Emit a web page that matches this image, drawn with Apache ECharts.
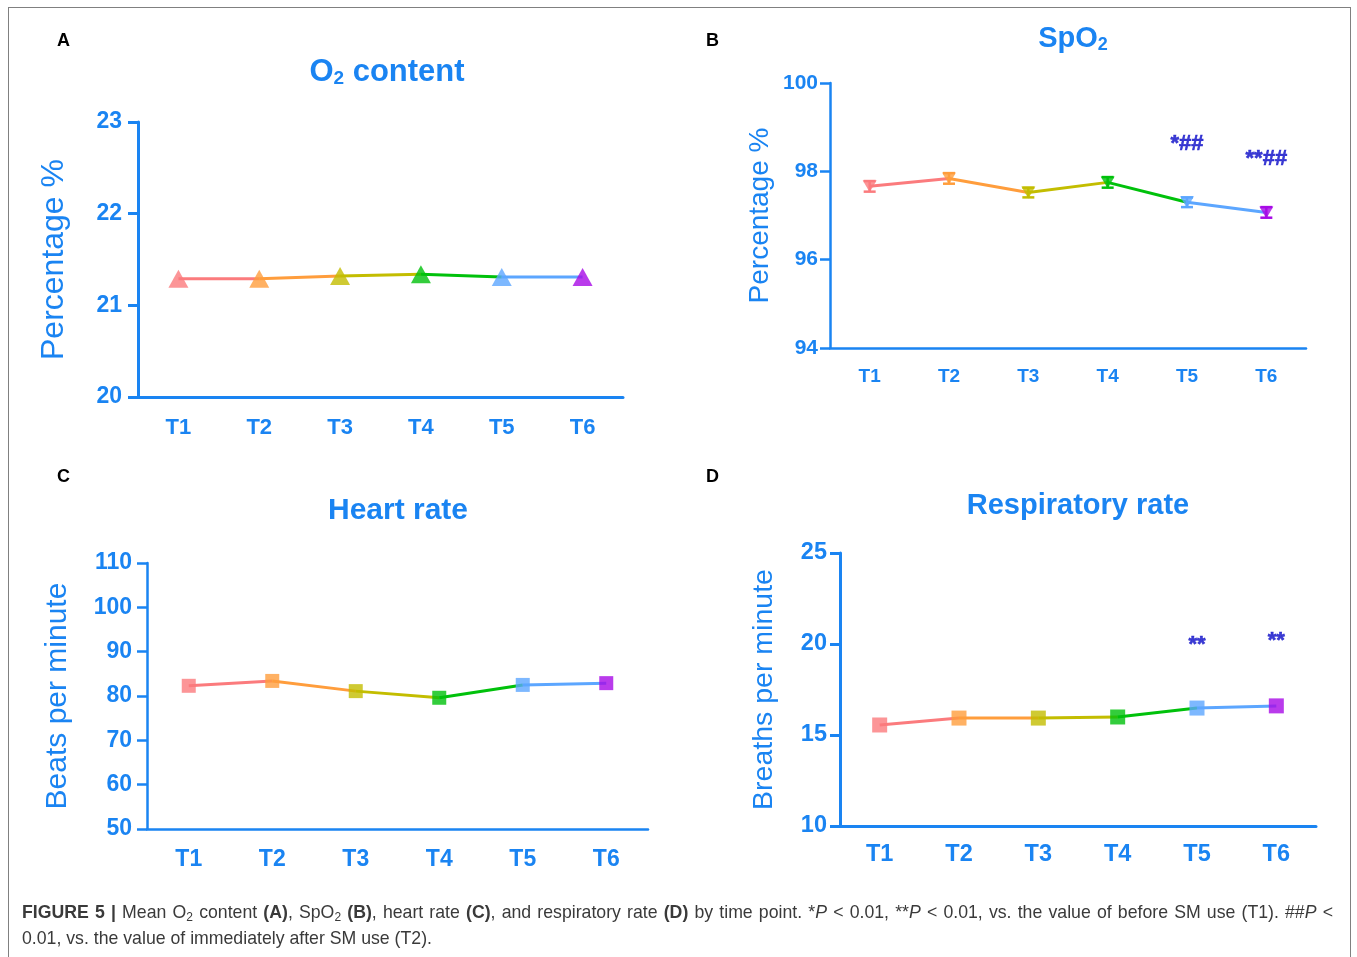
<!DOCTYPE html>
<html>
<head>
<meta charset="utf-8">
<script src="https://cdn.jsdelivr.net/npm/echarts@6/dist/echarts.min.js"></script>
<style>
  html, body { margin: 0; padding: 0; background: #fff; }
  #chart { position: absolute; left: 0; top: 0; width: 1357px; height: 957px; }
  #frame { position: absolute; left: 8px; top: 7px; width: 1343px; height: 960px; border: 1.5px solid #808080; box-sizing: border-box; pointer-events: none; }
  #caption { position: absolute; left: 22px; top: 899px; width: 1311px; font-family: "Liberation Sans", Arial, sans-serif; font-size: 17.7px; line-height: 26px; color: #3a3a3a; }
  #caption .l1 { text-align: justify; text-align-last: justify; white-space: nowrap; }
  #caption .l2 { text-align: left; }
  #caption sub { font-size: 12px; vertical-align: -3px; line-height: 0; }
</style>
</head>
<body>
<div id="chart"></div>
<div id="frame"></div>
<div id="caption"><div class="l1"><b>FIGURE 5 |</b> Mean O<sub>2</sub> content <b>(A)</b>, SpO<sub>2</sub> <b>(B)</b>, heart rate <b>(C)</b>, and respiratory rate <b>(D)</b> by time point. *<i>P</i> &lt; 0.01, **<i>P</i> &lt; 0.01, vs. the value of before SM use (T1). ##<i>P</i> &lt;</div><div class="l2">0.01, vs. the value of immediately after SM use (T2).</div></div>
<script>
// ---------- data ----------
const categories = ['T1', 'T2', 'T3', 'T4', 'T5', 'T6'];
const o2Content = [21.29, 21.29, 21.32, 21.34, 21.31, 21.31];
const spo2 = [97.66, 97.84, 97.52, 97.75, 97.30, 97.07];
const spo2Err = [0.12, 0.12, 0.11, 0.12, 0.11, 0.12];
const heartRate = [82.3, 83.4, 81.1, 79.6, 82.5, 82.9];
const respRate = [15.55, 15.93, 15.93, 15.99, 16.48, 16.60];
const annotB = ['', '', '', '', '*##', '**##'];
const annotBY = [null, null, null, null, 98.62, 98.27];
const annotD = ['', '', '', '', '**', '**'];
const annotDY = [null, null, null, null, 19.95, 20.15];
const yTicksA = { min: 20, max: 23, interval: 1 };
const yTicksB = { min: 94, max: 100, interval: 2 };
const yTicksC = { min: 50, max: 110, interval: 10 };
const yTicksD = { min: 10, max: 25, interval: 5 };

// ---------- style ----------
const pointColors = ['#fb7b7d', '#ff9d3c', '#c3bd00', '#00c10b', '#5ca6ff', '#a70ae6'];
const AX = '#1a84f2';
const ANN = '#0c0cc8';
const FONT = '"Liberation Sans", Arial, sans-serif';

const panels = [
  { vals: o2Content, ticks: yTicksA, grid: { left: 138, top: 122, width: 485, height: 275 },
    name: 'Percentage %', nameSize: 32, nameGap: 68, ySize: 23, yMargin: 16, xSize: 22, xMargin: 20,
    lw: 3, symbol: 'triangle', symbolSize: [20, 18], rotate: 0 },
  { vals: spo2, ticks: yTicksB, grid: { left: 830, top: 83, width: 476, height: 265 },
    name: 'Percentage %', nameSize: 28, nameGap: 56, ySize: 21, yMargin: 12, xSize: 19, xMargin: 19,
    lw: 2.5, symbol: 'triangle', symbolSize: [14, 12], rotate: 180 },
  { vals: heartRate, ticks: yTicksC, grid: { left: 147, top: 563, width: 501, height: 266 },
    name: 'Beats per minute', nameSize: 30, nameGap: 74, ySize: 23, yMargin: 15, xSize: 23, xMargin: 19,
    lw: 2.5, symbol: 'rect', symbolSize: 14, rotate: 0 },
  { vals: respRate, ticks: yTicksD, grid: { left: 840, top: 553, width: 476, height: 273 },
    name: 'Breaths per minute', nameSize: 28.5, nameGap: 61, ySize: 23.5, yMargin: 13, xSize: 23.5, xMargin: 17,
    lw: 3, symbol: 'rect', symbolSize: 15, rotate: 0 }
];

const grids = [], xAxes = [], yAxes = [], series = [];
panels.forEach((p, gi) => {
  grids.push(Object.assign({ containLabel: false }, p.grid));
  xAxes.push({
    gridIndex: gi, type: 'category', data: categories, boundaryGap: true,
    axisLine: { lineStyle: { color: AX, width: p.lw } },
    axisTick: { alignWithLabel: true, length: 12, lineStyle: { color: AX, width: p.lw } },
    axisLabel: { color: AX, fontFamily: FONT, fontWeight: 'bold', fontSize: p.xSize, margin: p.xMargin },
    splitLine: { show: false }
  });
  yAxes.push({
    gridIndex: gi, type: 'value', min: p.ticks.min, max: p.ticks.max, interval: p.ticks.interval,
    axisLine: { show: true, lineStyle: { color: AX, width: p.lw } },
    axisTick: { show: true, length: 10, lineStyle: { color: AX, width: p.lw } },
    axisLabel: { color: AX, fontFamily: FONT, fontWeight: 'bold', fontSize: p.ySize, margin: p.yMargin },
    splitLine: { show: false },
    name: p.name, nameLocation: 'middle', nameRotate: 90, nameGap: p.nameGap,
    nameTextStyle: { color: AX, fontFamily: FONT, fontSize: p.nameSize }
  });
  // coloured segments
  for (let i = 0; i < categories.length - 1; i++) {
    series.push({
      type: 'line', xAxisIndex: gi, yAxisIndex: gi, silent: true,
      data: p.vals.map((v, j) => (j === i || j === i + 1) ? v : null),
      symbol: 'none', lineStyle: { color: pointColors[i], width: 3 }, z: 2
    });
  }
  // error bars for SpO2
  if (gi === 1) {
    series.push({
      type: 'custom', xAxisIndex: gi, yAxisIndex: gi, z: 4,
      data: spo2.map((v, j) => [j, v - spo2Err[j], v + spo2Err[j]]),
      renderItem: (params, api) => {
        const lo = api.coord([api.value(0), api.value(1)]);
        const hi = api.coord([api.value(0), api.value(2)]);
        const c = pointColors[params.dataIndex];
        const hw = 6;
        const st = { stroke: c, lineWidth: 2.5 };
        return { type: 'group', children: [
          { type: 'line', shape: { x1: lo[0], y1: lo[1], x2: hi[0], y2: hi[1] }, style: st },
          { type: 'line', shape: { x1: lo[0] - hw, y1: lo[1], x2: lo[0] + hw, y2: lo[1] }, style: st },
          { type: 'line', shape: { x1: hi[0] - hw, y1: hi[1], x2: hi[0] + hw, y2: hi[1] }, style: st }
        ]};
      }
    });
  }
  // markers
  series.push({
    type: 'scatter', xAxisIndex: gi, yAxisIndex: gi, z: 5,
    data: p.vals.map((v, j) => ({ value: [j, v], itemStyle: { color: pointColors[j] } })),
    symbol: p.symbol, symbolSize: p.symbolSize, symbolRotate: p.rotate
  });
});

function annotationSeries(gi, texts, ys, size) {
  return {
    type: 'scatter', xAxisIndex: gi, yAxisIndex: gi, z: 6, silent: true,
    symbolSize: 0,
    data: texts.map((t, j) => ({ value: [j, ys[j]], name: t })).filter(d => d.name),
    label: { show: true, position: 'inside', formatter: d => d.name,
      color: ANN, fontFamily: FONT, fontWeight: 'bold', fontSize: size,
      textBorderColor: ANN, textBorderWidth: 0.6 }
  };
}
series.push(annotationSeries(1, annotB, annotBY, 22));
series.push(annotationSeries(3, annotD, annotDY, 22));

function rich(size) {
  return {
    b: { fontFamily: FONT, fontWeight: 'bold', fontSize: size, color: AX },
    s: { fontFamily: FONT, fontWeight: 'bold', fontSize: Math.round(size * 0.62), color: AX, padding: [Math.round(size * 0.42), 0, 0, 0] }
  };
}
const titles = [
  { text: '{b|O}{s|2}{b| content}', left: 387, top: 56, size: 31 },
  { text: '{b|Sp}{b|O}{s|2}', left: 1073, top: 24, size: 29 },
  { text: '{b|Heart rate}', left: 398, top: 496, size: 30 },
  { text: '{b|Respiratory rate}', left: 1078, top: 491, size: 29 }
].map(t => ({ text: t.text, left: t.left, top: t.top, textAlign: 'center', padding: 0,
  textStyle: { rich: rich(t.size) } }));

const panelLabels = [['A', 57, 32], ['B', 706, 32], ['C', 57, 468], ['D', 706, 468]].map(l => ({
  type: 'text', left: l[1], top: l[2],
  style: { text: l[0], fontFamily: FONT, fontWeight: 'bold', fontSize: 18, fill: '#000' }
}));

const chart = echarts.init(document.getElementById('chart'), null, { renderer: 'canvas' });
chart.setOption({
  animation: false,
  backgroundColor: '#fff',
  title: titles,
  graphic: panelLabels,
  grid: grids, xAxis: xAxes, yAxis: yAxes, series: series
});
</script>
</body>
</html>
